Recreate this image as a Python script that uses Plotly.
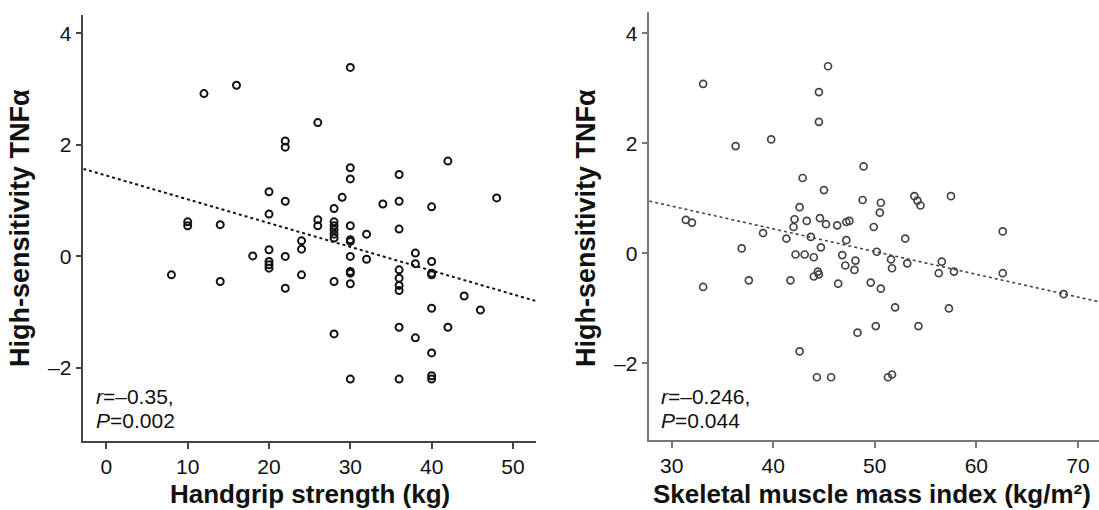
import numpy as np
import plotly.graph_objects as go

W, H = 1099, 510

# ---------------- data: left panel (handgrip strength) ----------------
grip_x = [8, 10, 10, 12, 14, 14, 16, 18,
          20, 20, 20, 20, 20, 20,
          22, 22, 22, 22, 22,
          24, 24, 24,
          26, 26, 26,
          28, 28, 28, 28, 28, 28, 28, 28,
          29,
          30, 30, 30, 30, 30, 30, 30, 30, 30, 30, 30,
          32, 32, 34,
          36, 36, 36, 36, 36, 36, 36, 36, 36,
          38, 38, 38,
          40, 40, 40, 40, 40, 40, 40, 40,
          42, 42, 44, 46, 48]
grip_y = [-0.33, 0.62, 0.55, 2.92, 0.57, -0.45, 3.07, 0.01,
          1.16, 0.76, 0.12, -0.09, -0.15, -0.21,
          2.07, 1.96, 0.99, 0.00, -0.57,
          0.28, 0.13, -0.33,
          2.40, 0.66, 0.55,
          0.86, 0.62, 0.55, 0.48, 0.40, 0.33, -0.45, -1.39,
          1.06,
          3.39, 1.59, 1.39, 0.55, 0.30, 0.27, 0.00, -0.27, -0.30, -0.49, -2.20,
          0.40, -0.05, 0.94,
          1.47, 0.99, 0.49, -0.24, -0.39, -0.52, -0.61, -1.27, -2.20,
          0.06, -0.13, -1.46,
          0.89, -0.09, -0.30, -0.33, -0.93, -1.73, -2.14, -2.20,
          1.71, -1.27, -0.71, -0.96, 1.05]
grip_fit_intercept = 1.45
grip_fit_slope = -0.0426
grip_xrange = [-2.84, 52.8]
grip_yrange = [-3.31, 4.33]
grip_xticks = [0, 10, 20, 30, 40, 50]

# ---------------- data: right panel (skeletal muscle mass index) ----------------
smi_x = [31.4, 32.0, 33.1, 33.1, 36.3, 36.9, 37.6, 39.0, 39.8, 41.3,
         41.7, 42.1, 42.0, 42.2, 42.6, 42.6, 42.9, 43.1, 43.3, 43.7,
         44.0, 44.0, 44.3, 44.4, 44.5, 44.5, 44.5, 44.6, 44.7, 45.0,
         45.2, 45.4, 45.7, 46.3, 46.4, 46.8, 47.1, 47.2, 47.2, 47.5,
         48.0, 48.1, 48.3, 48.8, 48.9, 49.6, 49.9, 50.1, 50.2, 50.5,
         50.6, 50.6, 51.3, 51.6, 51.7, 51.7, 52.0, 53.0, 53.2, 53.9,
         54.2, 54.3, 54.5, 56.3, 56.6, 57.3, 57.5, 57.8, 62.6, 62.6,
         68.6]
smi_y = [0.61, 0.56, 3.08, -0.61, 1.95, 0.09, -0.49, 0.37, 2.07, 0.27,
         -0.49, 0.62, 0.48, -0.02, 0.84, -1.78, 1.37, -0.02, 0.59, 0.30,
         -0.07, -0.42, -2.25, -0.33, -0.38, 2.93, 2.39, 0.64, 0.11, 1.15,
         0.53, 3.40, -2.25, 0.51, -0.55, -0.03, -0.22, 0.57, 0.24, 0.59,
         -0.30, -0.13, -1.44, 0.97, 1.58, -0.53, 0.48, -1.32, 0.03, 0.74,
         0.92, -0.64, -2.25, -0.11, -2.20, -0.27, -0.98, 0.27, -0.18, 1.04,
         0.96, -1.32, 0.87, -0.36, -0.15, -1.00, 1.04, -0.33, 0.40, -0.36,
         -0.74]
smi_fit_intercept = 2.098
smi_fit_slope = -0.0413
smi_xrange = [27.8, 72.08]
smi_yrange = [-3.39, 4.38]
smi_xticks = [30, 40, 50, 60, 70]

y_ticks = [-2, 0, 2, 4]
y_ticklabels = ["\u20132", "0", "2", "4"]

y_title = "High-sensitivity TNF\u03b1"
left_xtitle = "Handgrip strength (kg)"
right_xtitle = "Skeletal muscle mass index (kg/m\u00b2)"
left_stats = ["<i>r</i>=\u20130.35,", "<i>P</i>=0.002"]
right_stats = ["<i>r</i>=\u20130.246,", "<i>P</i>=0.044"]

FONT = "Liberation Sans, Arial, Helvetica, sans-serif"
LEFT_COLOR = "#111111"
RIGHT_COLOR = "#444444"

# ---------------- figure ----------------
fig = go.Figure()

fit_lx = np.array(grip_xrange)
fit_ly = grip_fit_intercept + grip_fit_slope * fit_lx
fit_rx = np.array(smi_xrange)
fit_ry = smi_fit_intercept + smi_fit_slope * fit_rx

fig.add_trace(go.Scatter(x=fit_lx, y=fit_ly, mode="lines",
                         line=dict(color=LEFT_COLOR, width=2, dash="dot"),
                         xaxis="x", yaxis="y", hoverinfo="skip", showlegend=False))
fig.add_trace(go.Scatter(x=grip_x, y=grip_y, mode="markers",
                         marker=dict(symbol="circle-open", size=7, color=LEFT_COLOR,
                                     line=dict(color=LEFT_COLOR, width=2)),
                         xaxis="x", yaxis="y", showlegend=False))

fig.add_trace(go.Scatter(x=fit_rx, y=fit_ry, mode="lines",
                         line=dict(color=RIGHT_COLOR, width=1.6, dash="dot"),
                         xaxis="x2", yaxis="y2", hoverinfo="skip", showlegend=False))
fig.add_trace(go.Scatter(x=smi_x, y=smi_y, mode="markers",
                         marker=dict(symbol="circle-open", size=7, color=RIGHT_COLOR,
                                     line=dict(color=RIGHT_COLOR, width=1.7)),
                         xaxis="x2", yaxis="y2", showlegend=False))

def px_x(p):
    return p / W

def px_y(p):
    return 1 - p / H

L_left, L_right, L_top, L_bot = 83.3, 535.7, 15, 441
R_left, R_right, R_top, R_bot = 649.3, 1099, 12.3, 440

axis_common = dict(showline=True, linewidth=1.5, ticks="outside", ticklen=6,
                   tickwidth=1.5, showgrid=False, zeroline=False,
                   tickfont=dict(family=FONT, size=21, color="#111111"))

fig.update_layout(
    width=W, height=H,
    margin=dict(l=0, r=0, t=0, b=0),
    paper_bgcolor="white", plot_bgcolor="white",
    xaxis=dict(domain=[px_x(L_left), px_x(L_right)], range=grip_xrange,
               tickvals=grip_xticks, anchor="y", linecolor="#444444", tickcolor="#444444",
               **axis_common),
    yaxis=dict(domain=[px_y(L_bot), px_y(L_top)], range=grip_yrange,
               tickvals=y_ticks, ticktext=y_ticklabels, anchor="x",
               linecolor="#444444", tickcolor="#444444", **axis_common),
    xaxis2=dict(domain=[px_x(R_left), px_x(R_right)], range=smi_xrange,
                tickvals=smi_xticks, anchor="y2", linecolor="#777777", tickcolor="#777777",
                **axis_common),
    yaxis2=dict(domain=[px_y(R_bot), px_y(R_top)], range=smi_yrange,
                tickvals=y_ticks, ticktext=y_ticklabels, anchor="x2",
                linecolor="#777777", tickcolor="#777777", **axis_common),
)

ann = []
xtitle_font = dict(family=FONT, size=26, color="#111111")
ytitle_font = dict(family=FONT, size=27, color="#111111")
ann.append(dict(text="<b>" + left_xtitle + "</b>", x=px_x((L_left + L_right) / 2), y=px_y(494),
                xref="paper", yref="paper", xanchor="center", yanchor="middle",
                showarrow=False, font=xtitle_font))
ann.append(dict(text="<b>" + right_xtitle + "</b>", x=px_x(872), y=px_y(494),
                xref="paper", yref="paper", xanchor="center", yanchor="middle",
                showarrow=False, font=xtitle_font))
ann.append(dict(text="<b>" + y_title + "</b>", x=px_x(20), y=px_y(228),
                xref="paper", yref="paper", xanchor="center", yanchor="middle",
                textangle=-90, showarrow=False, font=ytitle_font))
ann.append(dict(text="<b>" + y_title + "</b>", x=px_x(586), y=px_y(228),
                xref="paper", yref="paper", xanchor="center", yanchor="middle",
                textangle=-90, showarrow=False, font=ytitle_font))

stat_font = dict(family=FONT, size=21, color="#111111")
for i, t in enumerate(left_stats):
    ann.append(dict(text=t, x=px_x(94), y=px_y(396 + 24 * i), xref="paper", yref="paper",
                    xanchor="left", yanchor="middle", showarrow=False, font=stat_font))
for i, t in enumerate(right_stats):
    ann.append(dict(text=t, x=px_x(659), y=px_y(396 + 24 * i), xref="paper", yref="paper",
                    xanchor="left", yanchor="middle", showarrow=False, font=stat_font))

fig.update_layout(annotations=ann)

fig.write_html("out.html", config={"displayModeBar": False},
               post_script="document.body.style.margin='0px';document.body.style.overflow='hidden';")
